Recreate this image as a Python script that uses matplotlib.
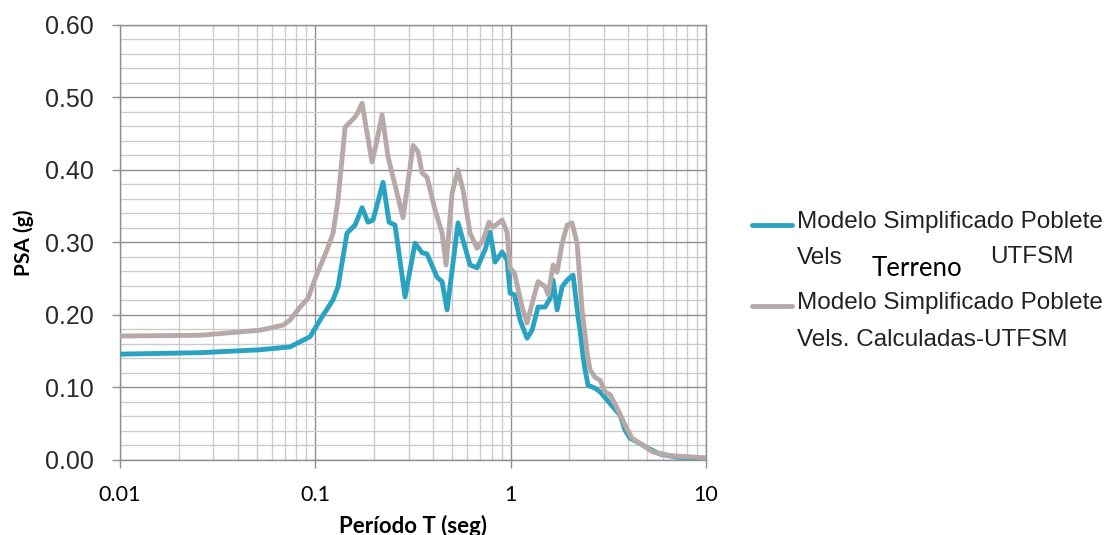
import numpy as np
import matplotlib
matplotlib.use("Agg")
from matplotlib import pyplot as plt
from matplotlib.lines import Line2D
from matplotlib.ticker import FixedLocator, LogLocator, NullFormatter

# periodo T (seg) and PSA (g)
T_terreno = [0.01, 0.0257, 0.052, 0.0742, 0.0939, 0.1, 0.1057, 0.1232, 0.1307, 0.1453,
             0.1597, 0.1735, 0.1861, 0.1974, 0.2222, 0.2385, 0.2559, 0.2879, 0.3239,
             0.3518, 0.3732, 0.4201, 0.4455, 0.4725, 0.5378, 0.6197, 0.6730, 0.7397,
             0.7845, 0.8321, 0.9036, 0.9585, 0.993, 1.046, 1.117, 1.213, 1.287, 1.381,
             1.501, 1.592, 1.649, 1.728, 1.834, 1.945, 2.087, 2.214, 2.266, 2.348,
             2.404, 2.491, 2.705, 2.869, 3.043, 3.344, 3.633, 3.853, 4.087, 4.439,
             4.993, 5.821, 7.112, 10.0]
psa_terreno = [0.146, 0.148, 0.152, 0.156, 0.170, 0.182, 0.193, 0.221, 0.239, 0.313,
               0.324, 0.348, 0.328, 0.331, 0.383, 0.328, 0.324, 0.225, 0.299,
               0.286, 0.284, 0.252, 0.246, 0.207, 0.327, 0.269, 0.265, 0.290,
               0.314, 0.273, 0.287, 0.276, 0.230, 0.228, 0.193, 0.168, 0.179, 0.211,
               0.211, 0.223, 0.248, 0.207, 0.239, 0.248, 0.255, 0.197, 0.179, 0.142,
               0.124, 0.103, 0.099, 0.094, 0.086, 0.073, 0.062, 0.041, 0.030, 0.025,
               0.017, 0.008, 0.004, 0.002]

T_calc = [0.01, 0.0257, 0.0521, 0.0683, 0.0742, 0.0835, 0.0918, 0.1, 0.1148, 0.1232,
          0.1307, 0.1420, 0.1597, 0.1654, 0.1735, 0.1840, 0.1951, 0.2070, 0.2195,
          0.2357, 0.2500, 0.2812, 0.3164, 0.3357, 0.3518, 0.3732, 0.4101, 0.4455,
          0.4670, 0.5011, 0.5378, 0.5705, 0.6197, 0.6730, 0.7222, 0.7752, 0.8125,
          0.9036, 0.9585, 0.993, 1.046, 1.144, 1.213, 1.302, 1.381, 1.501, 1.555,
          1.649, 1.728, 1.834, 1.945, 2.062, 2.188, 2.321, 2.462, 2.550, 2.705,
          2.869, 3.043, 3.228, 3.548, 3.853, 4.183, 4.708, 5.359, 6.551, 10.0]
psa_calc = [0.171, 0.172, 0.179, 0.186, 0.193, 0.211, 0.223, 0.251, 0.290, 0.313,
            0.359, 0.459, 0.473, 0.480, 0.492, 0.451, 0.411, 0.441, 0.476,
            0.418, 0.390, 0.334, 0.434, 0.425, 0.396, 0.390, 0.345, 0.313,
            0.269, 0.368, 0.400, 0.372, 0.313, 0.292, 0.303, 0.328, 0.321,
            0.331, 0.314, 0.265, 0.258, 0.211, 0.189, 0.221, 0.246, 0.239, 0.228,
            0.269, 0.259, 0.299, 0.324, 0.327, 0.299, 0.207, 0.148, 0.124, 0.114,
            0.110, 0.094, 0.090, 0.069, 0.048, 0.030, 0.021, 0.011, 0.006, 0.003]

x_ticks = [0.01, 0.1, 1, 10]
x_ticklabels = ["0.01", "0.1", "1", "10"]
y_ticks = [0.0, 0.1, 0.2, 0.3, 0.4, 0.5, 0.6]

c_blue = "#2aa3c2"
c_pink = "#b8a9a9"
c_major = "#8f8f8f"
c_minor = "#cccccc"
LW = 3.5

fig = plt.figure(figsize=(11.08, 5.35), dpi=100)
ax = fig.add_axes([0.1083, 0.1402, 0.5289, 0.8131])

ax.plot(T_terreno, psa_terreno, color=c_blue, lw=LW, solid_joinstyle="round",
        solid_capstyle="round", zorder=3)
ax.plot(T_calc, psa_calc, color=c_pink, lw=LW, solid_joinstyle="round",
        solid_capstyle="round", zorder=4)

ax.set_xscale("log")
ax.set_xlim(0.01, 10)
ax.set_ylim(0, 0.6)

ax.xaxis.set_major_locator(FixedLocator(x_ticks))
ax.set_xticklabels(x_ticklabels)
ax.xaxis.set_minor_locator(LogLocator(base=10, subs=np.arange(2, 10)))
ax.xaxis.set_minor_formatter(NullFormatter())
ax.yaxis.set_major_locator(FixedLocator(y_ticks))
ax.set_yticklabels(["%.2f" % v for v in y_ticks])
ax.yaxis.set_minor_locator(FixedLocator(np.arange(0, 0.61, 0.02)))

ax.grid(which="major", color=c_major, lw=1.0)
ax.grid(which="minor", color=c_minor, lw=1.0)
ax.set_axisbelow(True)
for s in ax.spines.values():
    s.set_color(c_major)
    s.set_linewidth(1.0)

ax.tick_params(which="major", length=6, color=c_major, width=1.0)
ax.tick_params(which="minor", length=0)
ax.tick_params(axis="x", pad=12)
ax.tick_params(axis="y", pad=13)
for t in ax.get_xticklabels():
    t.set_fontfamily("Lato")
    t.set_fontsize(15.5)
for t in ax.get_yticklabels():
    t.set_fontfamily("Liberation Sans")
    t.set_fontsize(18)
    t.set_color("#2a2a2a")

ax.set_xlabel("Período T (seg)", fontfamily="Lato", fontweight="bold", fontsize=16,
              labelpad=7)
ax.set_ylabel("PSA (g)", fontfamily="Lato", fontweight="bold", fontsize=15, labelpad=8)

# legend drawn by hand: the first label has "Terreno" dropped below its line
leg_font = {"family": "Liberation Sans", "size": 17.5, "color": "#222222"}
fig.add_artist(Line2D([0.679, 0.715], [0.579, 0.579], transform=fig.transFigure,
                      color=c_blue, lw=LW, solid_capstyle="round"))
fig.add_artist(Line2D([0.679, 0.715], [0.428, 0.428], transform=fig.transFigure,
                      color=c_pink, lw=LW, solid_capstyle="round"))
fig.text(0.719, 0.585, "Modelo Simplificado Poblete", va="center", **leg_font)
fig.text(0.719, 0.517, "Vels", va="center", **leg_font)
fig.text(0.8935, 0.519, "UTFSM", va="center", **leg_font)
fig.text(0.787, 0.498, "Terreno", fontfamily="Lato", fontsize=18.5, color="black",
         va="center")
fig.text(0.719, 0.434, "Modelo Simplificado Poblete", va="center", **leg_font)
fig.text(0.719, 0.364, "Vels. Calculadas-UTFSM", va="center", **leg_font)

fig.savefig("out.png", dpi=100)
